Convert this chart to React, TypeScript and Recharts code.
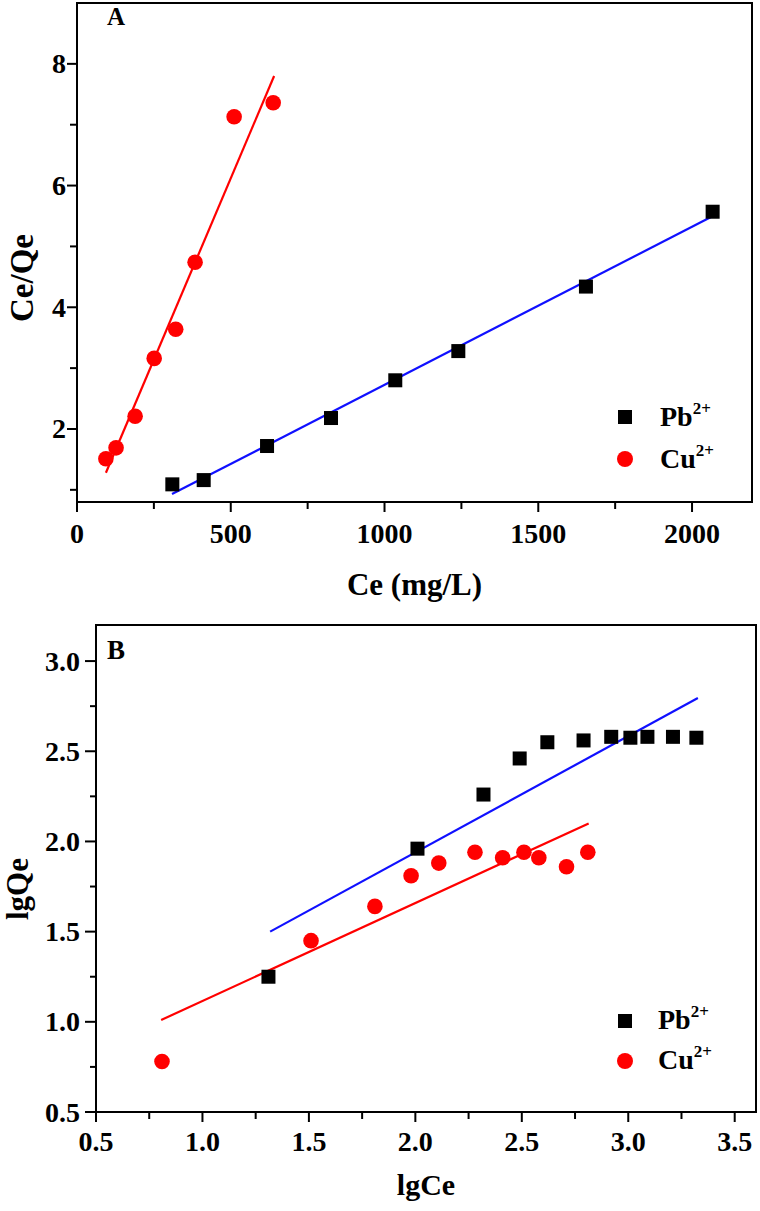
import React from 'react';
import { ScatterChart, Scatter, XAxis, YAxis, ReferenceArea, Legend } from 'recharts';

// ---------- Panel A data (Langmuir) ----------
const pbA_x = [310, 412, 618, 826, 1035, 1240, 1655, 2067];
const pbA_y = [1.09, 1.16, 1.72, 2.18, 2.8, 3.28, 4.34, 5.57];
const cuA_x = [94, 127, 189, 251, 321, 384, 511, 638];
const cuA_y = [1.51, 1.69, 2.21, 3.16, 3.64, 4.74, 7.13, 7.36];
const pbFitA_x = [309, 2068];
const pbFitA_y = [0.93, 5.5];
const cuFitA_x = [94, 641];
const cuFitA_y = [1.28, 7.8];

const xTicksA = [0, 250, 500, 750, 1000, 1250, 1500, 1750, 2000];
const xMajorA = [0, 500, 1000, 1500, 2000];
const yTicksA = [1, 2, 3, 4, 5, 6, 7, 8];
const yMajorA = [2, 4, 6, 8];

// ---------- Panel B data (Freundlich) ----------
const pbB_x = [1.31, 2.01, 2.32, 2.49, 2.62, 2.79, 2.92, 3.01, 3.09, 3.21, 3.32];
const pbB_y = [1.25, 1.96, 2.26, 2.46, 2.55, 2.56, 2.58, 2.575, 2.58, 2.58, 2.575];
const cuB_x = [0.81, 1.51, 1.81, 1.98, 2.11, 2.28, 2.41, 2.51, 2.58, 2.71, 2.81];
const cuB_y = [0.78, 1.45, 1.64, 1.81, 1.88, 1.94, 1.91, 1.94, 1.91, 1.86, 1.94];
const pbFitB_x = [1.318, 3.327];
const pbFitB_y = [1.5, 2.795];
const cuFitB_x = [0.806, 2.814];
const cuFitB_y = [1.01, 2.1];

const xTicksB = [0.5, 0.75, 1, 1.25, 1.5, 1.75, 2, 2.25, 2.5, 2.75, 3, 3.25, 3.5];
const xMajorB = [0.5, 1, 1.5, 2, 2.5, 3, 3.5];
const yTicksB = [0.5, 0.75, 1, 1.25, 1.5, 1.75, 2, 2.25, 2.5, 2.75, 3];
const yMajorB = [0.5, 1, 1.5, 2, 2.5, 3];

const ionNames = ['Pb', 'Cu'];
const ionCharge = '2+';

const zip = (xs: number[], ys: number[]) => xs.map((x, i) => ({ x, y: ys[i] }));

const FONT = "'Liberation Serif', 'Times New Roman', serif";
const RED = '#ff0000';
const BLUE = '#1010ff';
const TICK_FS = 28;

const isMajor = (list: number[], v: number) => list.some((m) => Math.abs(m - v) < 1e-9);

const makeXTick = (majors: number[], dy: number, dec: number) => (props: any) => {
  const { x, y, payload } = props;
  const major = isMajor(majors, payload.value);
  return (
    <g>
      <line x1={x} y1={y} x2={x} y2={y + (major ? 10 : 7)} stroke="#000" strokeWidth={2} />
      {major && (
        <text x={x} y={y + dy} textAnchor="middle" fontFamily={FONT} fontWeight="bold" fontSize={TICK_FS} fill="#000">
          {payload.value.toFixed(dec)}
        </text>
      )}
    </g>
  );
};

const makeYTick = (majors: number[], gap: number, dec: number, majorLen: number, minorLen: number) => (props: any) => {
  const { x, y, payload } = props;
  const major = isMajor(majors, payload.value);
  return (
    <g>
      <line x1={x} y1={y} x2={x - (major ? majorLen : minorLen)} y2={y} stroke="#000" strokeWidth={2} />
      {major && (
        <text x={x - gap} y={y + 9.5} textAnchor="end" fontFamily={FONT} fontWeight="bold" fontSize={TICK_FS} fill="#000">
          {payload.value.toFixed(dec)}
        </text>
      )}
    </g>
  );
};

const squareShape = (p: any) => <rect x={p.cx - 7} y={p.cy - 7} width={14} height={14} fill="#000" />;
const circleShape = (p: any) => <circle cx={p.cx} cy={p.cy} r={7.8} fill={RED} />;
const noShape = () => <g />;

const makeLegend = (sqY: number, ciY: number, textX: number, b1: number, b2: number) => () => (
  <svg width={150} height={100} style={{ overflow: 'visible' }}>
    <rect x={18} y={sqY - 7} width={14} height={14} fill="#000" />
    <text x={textX} y={b1} fontFamily={FONT} fontWeight="bold" fontSize={28} fill="#000">
      {ionNames[0]}
      <tspan dy={-12} fontSize={17}>{ionCharge}</tspan>
    </text>
    <circle cx={25} cy={ciY} r={8} fill={RED} />
    <text x={textX} y={b2} fontFamily={FONT} fontWeight="bold" fontSize={28} fill="#000">
      {ionNames[1]}
      <tspan dy={-12} fontSize={17}>{ionCharge}</tspan>
    </text>
  </svg>
);

const titleStyle = { fontFamily: FONT, fontWeight: 'bold' as const, fill: '#000' };

export default function App() {
  return (
    <div style={{ position: 'absolute', left: 0, top: 0, width: 760, height: 1211, background: '#fff' }}>
      <div style={{ position: 'absolute', left: 0, top: 0 }}>
        <ScatterChart width={760} height={612} margin={{ top: 3, right: 8, bottom: 50, left: 0 }}>
          <XAxis
            type="number"
            dataKey="x"
            domain={[0, 2195]}
            allowDataOverflow
            ticks={xTicksA}
            interval={0}
            height={60}
            tickSize={0}
            tickMargin={0}
            axisLine={false}
            tick={makeXTick(xMajorA, 41, 0)}
            label={{
              content: (p: any) => (
                <text x={p.viewBox.x + p.viewBox.width / 2} y={p.viewBox.y + 93} textAnchor="middle" fontSize={31} {...titleStyle}>
                  Ce (mg/L)
                </text>
              ),
            }}
          />
          <YAxis
            type="number"
            dataKey="y"
            domain={[0.8, 9]}
            allowDataOverflow
            ticks={yTicksA}
            interval={0}
            width={77}
            tickSize={0}
            tickMargin={0}
            axisLine={false}
            tick={makeYTick(yMajorA, 11, 0, 10, 7)}
            label={{
              content: (p: any) => (
                <text x={22} y={p.viewBox.y + 275} transform={`rotate(-90 22 ${p.viewBox.y + 275})`} textAnchor="middle" dominantBaseline="central" fontSize={33} {...titleStyle}>
                  Ce/Qe
                </text>
              ),
            }}
          />
          <ReferenceArea
            x1={0}
            x2={2195}
            y1={0.8}
            y2={9}
            fill="none"
            stroke="#000"
            strokeWidth={2}
            label={{
              content: (p: any) => (
                <text x={p.viewBox.x + 30} y={p.viewBox.y + 22} fontSize={25} {...titleStyle}>
                  A
                </text>
              ),
            }}
          />
          <Scatter name="fitPbA" data={zip(pbFitA_x, pbFitA_y)} line={{ stroke: BLUE, strokeWidth: 2.2 }} shape={noShape} legendType="none" isAnimationActive={false} />
          <Scatter name="fitCuA" data={zip(cuFitA_x, cuFitA_y)} line={{ stroke: RED, strokeWidth: 2.2 }} shape={noShape} legendType="none" isAnimationActive={false} />
          <Scatter name="Pb2+" data={zip(pbA_x, pbA_y)} fill="#000" shape={squareShape} isAnimationActive={false} />
          <Scatter name="Cu2+" data={zip(cuA_x, cuA_y)} fill={RED} shape={circleShape} isAnimationActive={false} />
          <Legend
            layout="vertical"
            align="center"
            verticalAlign="middle"
            wrapperStyle={{ left: 600, top: 390, width: 150, height: 100 }}
            content={makeLegend(27, 69, 60, 36, 78)}
          />
        </ScatterChart>
      </div>
      <div style={{ position: 'absolute', left: 0, top: 612 }}>
        <ScatterChart width={760} height={599} margin={{ top: 13, right: 4, bottom: 39, left: 0 }}>
          <XAxis
            type="number"
            dataKey="x"
            domain={[0.5, 3.6]}
            allowDataOverflow
            ticks={xTicksB}
            interval={0}
            height={60}
            tickSize={0}
            tickMargin={0}
            axisLine={false}
            tick={makeXTick(xMajorB, 39, 1)}
            label={{
              content: (p: any) => (
                <text x={p.viewBox.x + p.viewBox.width / 2} y={p.viewBox.y + 83} textAnchor="middle" fontSize={30} {...titleStyle}>
                  lgCe
                </text>
              ),
            }}
          />
          <YAxis
            type="number"
            dataKey="y"
            domain={[0.5, 3.2]}
            allowDataOverflow
            ticks={yTicksB}
            interval={0}
            width={96}
            tickSize={0}
            tickMargin={0}
            axisLine={false}
            tick={makeYTick(yMajorB, 16, 1, 11, 6)}
            label={{
              content: (p: any) => (
                <text x={17} y={p.viewBox.y + 264} transform={`rotate(-90 17 ${p.viewBox.y + 264})`} textAnchor="middle" dominantBaseline="central" fontSize={31} {...titleStyle}>
                  lgQe
                </text>
              ),
            }}
          />
          <ReferenceArea
            x1={0.5}
            x2={3.6}
            y1={0.5}
            y2={3.2}
            fill="none"
            stroke="#000"
            strokeWidth={2}
            label={{
              content: (p: any) => (
                <text x={p.viewBox.x + 11} y={p.viewBox.y + 34} fontSize={27} {...titleStyle}>
                  B
                </text>
              ),
            }}
          />
          <Scatter name="fitPbB" data={zip(pbFitB_x, pbFitB_y)} line={{ stroke: BLUE, strokeWidth: 2.2 }} shape={noShape} legendType="none" isAnimationActive={false} />
          <Scatter name="fitCuB" data={zip(cuFitB_x, cuFitB_y)} line={{ stroke: RED, strokeWidth: 2.2 }} shape={noShape} legendType="none" isAnimationActive={false} />
          <Scatter name="Pb2+" data={zip(pbB_x, pbB_y)} fill="#000" shape={squareShape} isAnimationActive={false} />
          <Scatter name="Cu2+" data={zip(cuB_x, cuB_y)} fill={RED} shape={circleShape} isAnimationActive={false} />
          <Legend
            layout="vertical"
            align="center"
            verticalAlign="middle"
            wrapperStyle={{ left: 600, top: 378, width: 150, height: 100 }}
            content={makeLegend(31, 71, 58, 39, 79)}
          />
        </ScatterChart>
      </div>
    </div>
  );
}
